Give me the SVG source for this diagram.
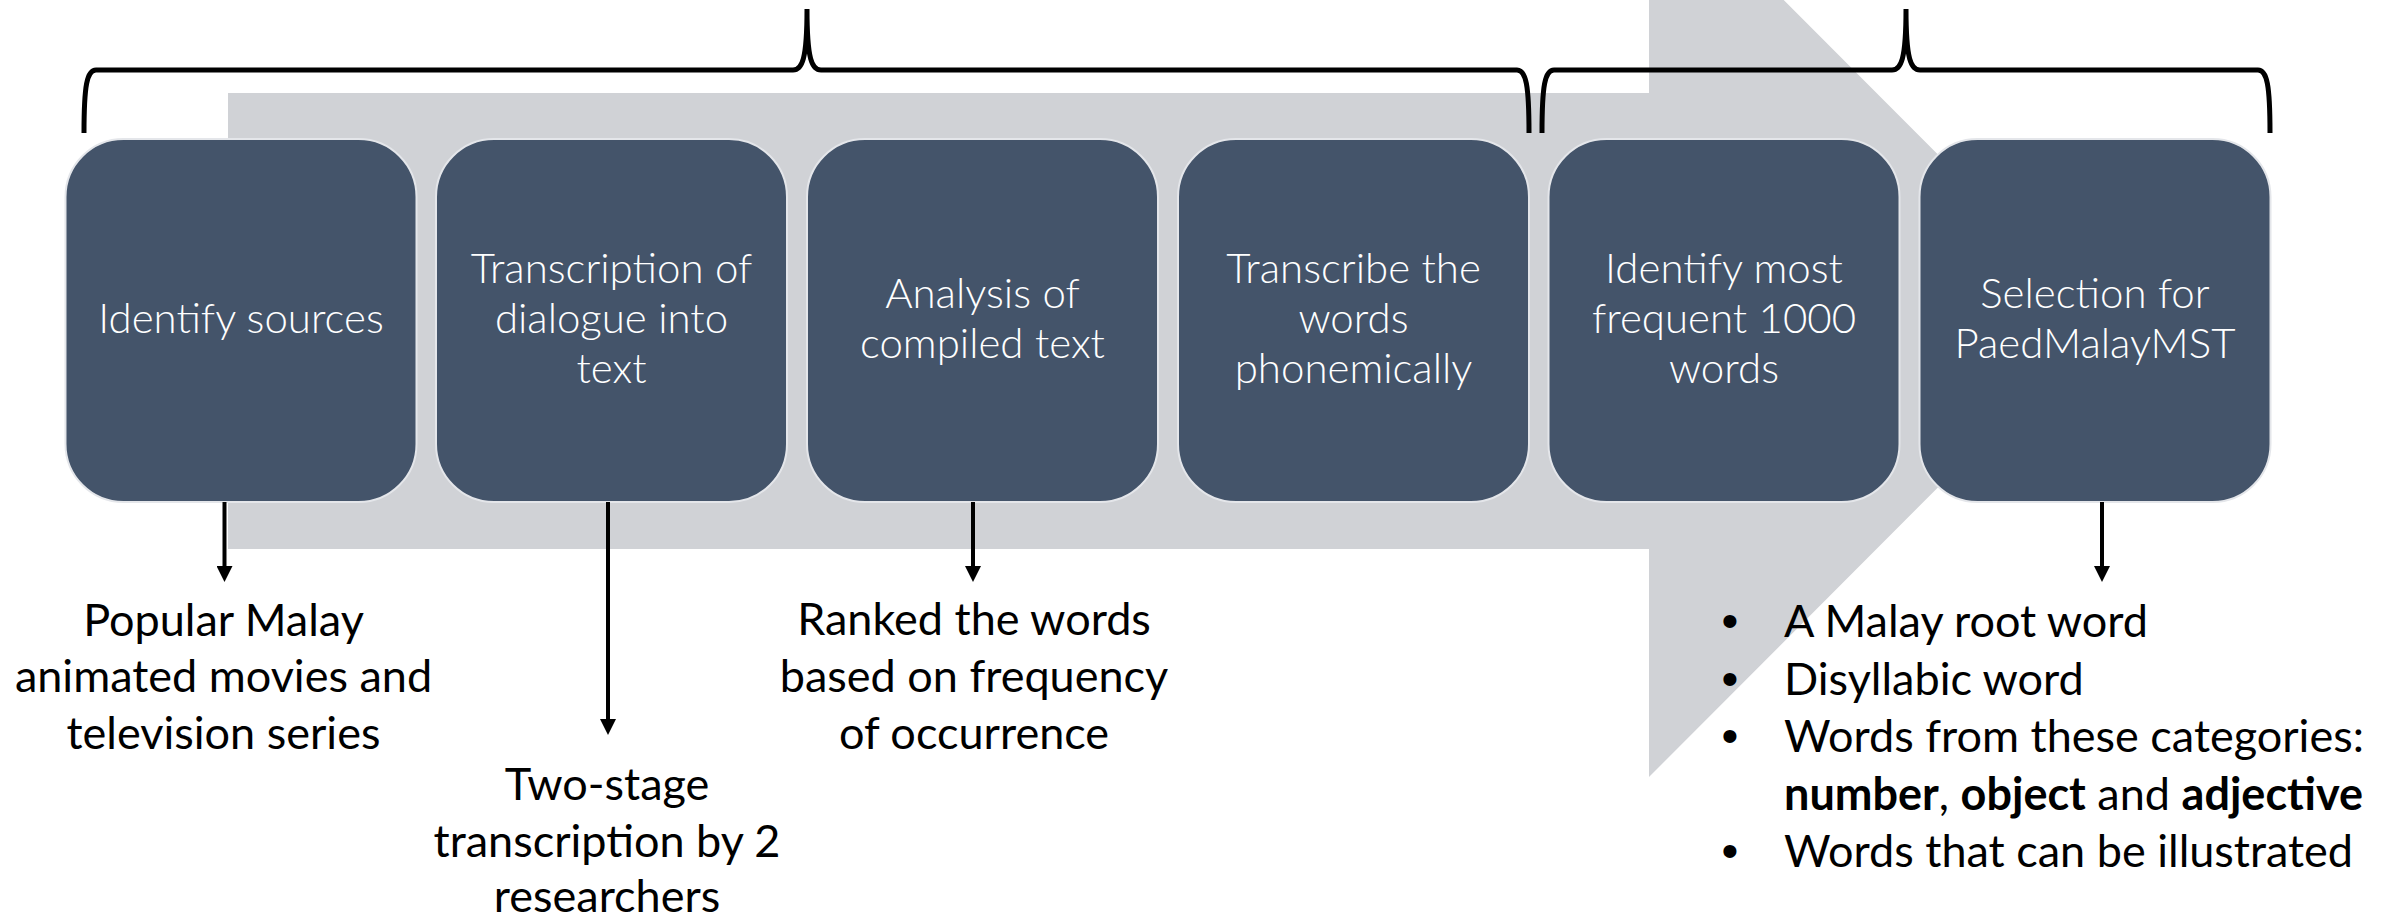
<svg xmlns="http://www.w3.org/2000/svg" width="2389" height="919" viewBox="0 0 2389 919">
<style>
.box{fill:#44546A;stroke:#E4E6EA;stroke-width:2}
.bt{font-family:Lato,"Liberation Sans",sans-serif;font-weight:300;font-size:42px;fill:#FFFFFF;text-anchor:middle}
.lt{font-family:Lato,"Liberation Sans",sans-serif;font-size:45px;fill:#000000;text-anchor:middle}
.bl{font-family:Lato,"Liberation Sans",sans-serif;font-size:45px;fill:#000000}
.bu{font-family:"Liberation Sans",sans-serif;font-size:48px;fill:#000000;text-anchor:middle}
.brace{fill:none;stroke:#000000;stroke-width:5;stroke-linecap:butt}
.conn{stroke:#000000;stroke-width:4;fill:none}
</style>
<defs>
<marker id="ah" markerUnits="userSpaceOnUse" markerWidth="16" markerHeight="16" viewBox="0 0 16 16" refX="4" refY="8" orient="auto">
<path d="M0,0 L16,8 L0,16 z" fill="#000000"/>
</marker>
</defs>
<rect width="2389" height="919" fill="#FFFFFF"/>
<g id="big-arrow">
<polygon points="228,93 1649,93 1649,-135 2104,321 1649,777 1649,549 228,549" fill="#D0D2D6"/>
</g>
<g id="braces">
<path class="brace" d="M84,133 C84,85 87,70 96,70 L793,70 C802,70 807,60 807,9 M807,9 C807,60 812,70 821,70 L1517,70 C1526,70 1529,85 1529,133"/>
<path class="brace" d="M1542,133 C1542,85 1545,70 1554,70 L1892,70 C1901,70 1906,60 1906,9 M1906,9 C1906,60 1911,70 1920,70 L2258,70 C2267,70 2270,85 2270,133"/>
</g>
<g id="node1"><rect class="box" x="65.5" y="139" width="351" height="363" rx="58" ry="58"/>
<text class="bt" x="241" y="333">Identify sources</text></g>
<g id="node2"><rect class="box" x="436" y="139" width="351" height="363" rx="58" ry="58"/>
<text class="bt" x="611.5" y="283">Transcription of</text>
<text class="bt" x="611.5" y="333">dialogue into</text>
<text class="bt" x="611.5" y="383">text</text></g>
<g id="node3"><rect class="box" x="807" y="139" width="351" height="363" rx="58" ry="58"/>
<text class="bt" x="982.5" y="308">Analysis of</text>
<text class="bt" x="982.5" y="358">compiled text</text></g>
<g id="node4"><rect class="box" x="1178" y="139" width="351" height="363" rx="58" ry="58"/>
<text class="bt" x="1353.5" y="283">Transcribe the</text>
<text class="bt" x="1353.5" y="333">words</text>
<text class="bt" x="1353.5" y="383">phonemically</text></g>
<g id="node5"><rect class="box" x="1548.5" y="139" width="351" height="363" rx="58" ry="58"/>
<text class="bt" x="1724" y="283">Identify most</text>
<text class="bt" x="1724" y="333">frequent 1000</text>
<text class="bt" x="1724" y="383">words</text></g>
<g id="node6"><rect class="box" x="1919.5" y="139" width="351" height="363" rx="58" ry="58"/>
<text class="bt" x="2095" y="308">Selection for</text>
<text class="bt" x="2095" y="358">PaedMalayMST</text></g>
<g id="connectors">
<line class="conn" x1="224.5" y1="502" x2="224.5" y2="570" marker-end="url(#ah)"/>
<line class="conn" x1="608" y1="502" x2="608" y2="723" marker-end="url(#ah)"/>
<line class="conn" x1="973" y1="502" x2="973" y2="570" marker-end="url(#ah)"/>
<line class="conn" x1="2102" y1="502" x2="2102" y2="570" marker-end="url(#ah)"/>
</g>
<g id="label1">
<text class="lt" x="223.5" y="636">Popular Malay</text>
<text class="lt" x="223.5" y="692">animated movies and</text>
<text class="lt" x="223.5" y="749">television series</text></g>
<g id="label2">
<text class="lt" x="607" y="800">Two-stage</text>
<text class="lt" x="607" y="857">transcription by 2</text>
<text class="lt" x="607" y="912">researchers</text></g>
<g id="label3">
<text class="lt" x="974" y="635">Ranked the words</text>
<text class="lt" x="974" y="692">based on frequency</text>
<text class="lt" x="974" y="749">of occurrence</text></g>
<g id="label4">
<text class="bu" x="1730" y="637">•</text>
<text class="bl" x="1784" y="637">A Malay root word</text>
<text class="bu" x="1730" y="694.5">•</text>
<text class="bl" x="1784" y="694.5">Disyllabic word</text>
<text class="bu" x="1730" y="752">•</text>
<text class="bl" x="1784" y="752">Words from these categories:</text>
<text class="bl" x="1784" y="809.5"><tspan font-weight="bold">number</tspan>, <tspan font-weight="bold">object</tspan> and <tspan font-weight="bold">adjective</tspan></text>
<text class="bu" x="1730" y="867">•</text>
<text class="bl" x="1784" y="867">Words that can be illustrated</text></g>
</svg>
